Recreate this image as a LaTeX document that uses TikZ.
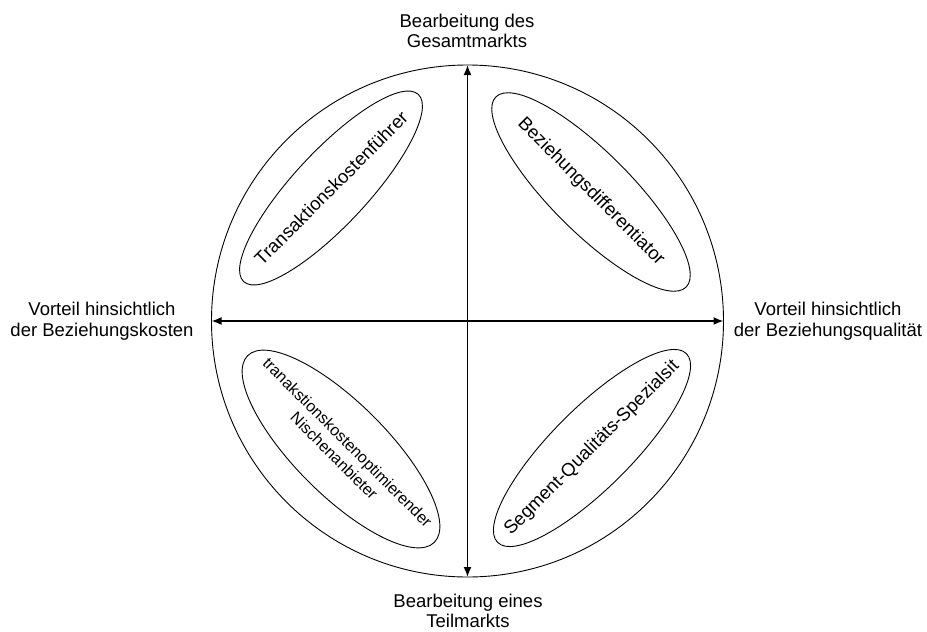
\documentclass[tikz,border=0pt]{standalone}
\usepackage{fontspec}
\setmainfont{Liberation Sans}
\usetikzlibrary{shapes.geometric,arrows.meta}
\begin{document}
\begin{tikzpicture}[x=1pt,y=-1pt,
  axislabel/.style={align=center,inner sep=0pt,font=\fontsize{18.5}{20.7}\selectfont},
  oval/.style={draw,ellipse,inner sep=0pt,line width=0.9pt},
  ovaltext/.style={align=center,inner sep=0pt,font=\fontsize{18.5}{21}\selectfont},
  tip/.tip={Latex[length=10pt,width=8pt]},
  axis/.style={line width=1.6pt,tip-tip}]
\useasboundingbox (0,0) rectangle (927,632);

% outer circle
\node[draw,circle,minimum size=512pt,inner sep=0pt,outer sep=0pt,line width=0.9pt] (c) at (467.5,321) {};

% axes
\draw[axis] (c.west) -- (c.east);
\draw[axis] (c.north) -- (c.south);

% axis labels
\node[axislabel] (top) at (467,31) {Bearbeitung des\\Gesamtmarkts};
\node[axislabel] (bot) at (468,611) {Bearbeitung eines\\Teilmarkts};
\node[axislabel] (lft) at (102,321) {Vorteil hinsichtlich\\der Beziehungskosten};
\node[axislabel] (rgt) at (828,321) {Vorteil hinsichtlich\\der Beziehungsqualität};

% strategy types: outline
\node[oval,rotate=47,minimum width=256pt,minimum height=74pt] (tl) at (331,188) {};
\node[oval,rotate=-45,minimum width=269pt,minimum height=80pt] (tr) at (591,192) {};
\node[oval,rotate=45,minimum width=267pt,minimum height=80pt] (br) at (592,448) {};
\node[oval,rotate=-45,minimum width=264pt,minimum height=92pt] (bl) at (341,449) {};

% strategy types: names
\node[ovaltext,rotate=45] (tltext) at (tl.center) {Transaktionskostenführer};
\node[ovaltext,rotate=-45] (trtext) at (tr.center) {Beziehungsdifferentiator};
\node[ovaltext,rotate=45] (brtext) at (br.center) {Segment-Qualitäts-Spezialsit};
\node[ovaltext,rotate=-45,font=\fontsize{16}{19}\selectfont] (bltext) at (bl.center) {tranakstionskostenoptimierender\\Nischenanbieter};
\end{tikzpicture}
\end{document}
